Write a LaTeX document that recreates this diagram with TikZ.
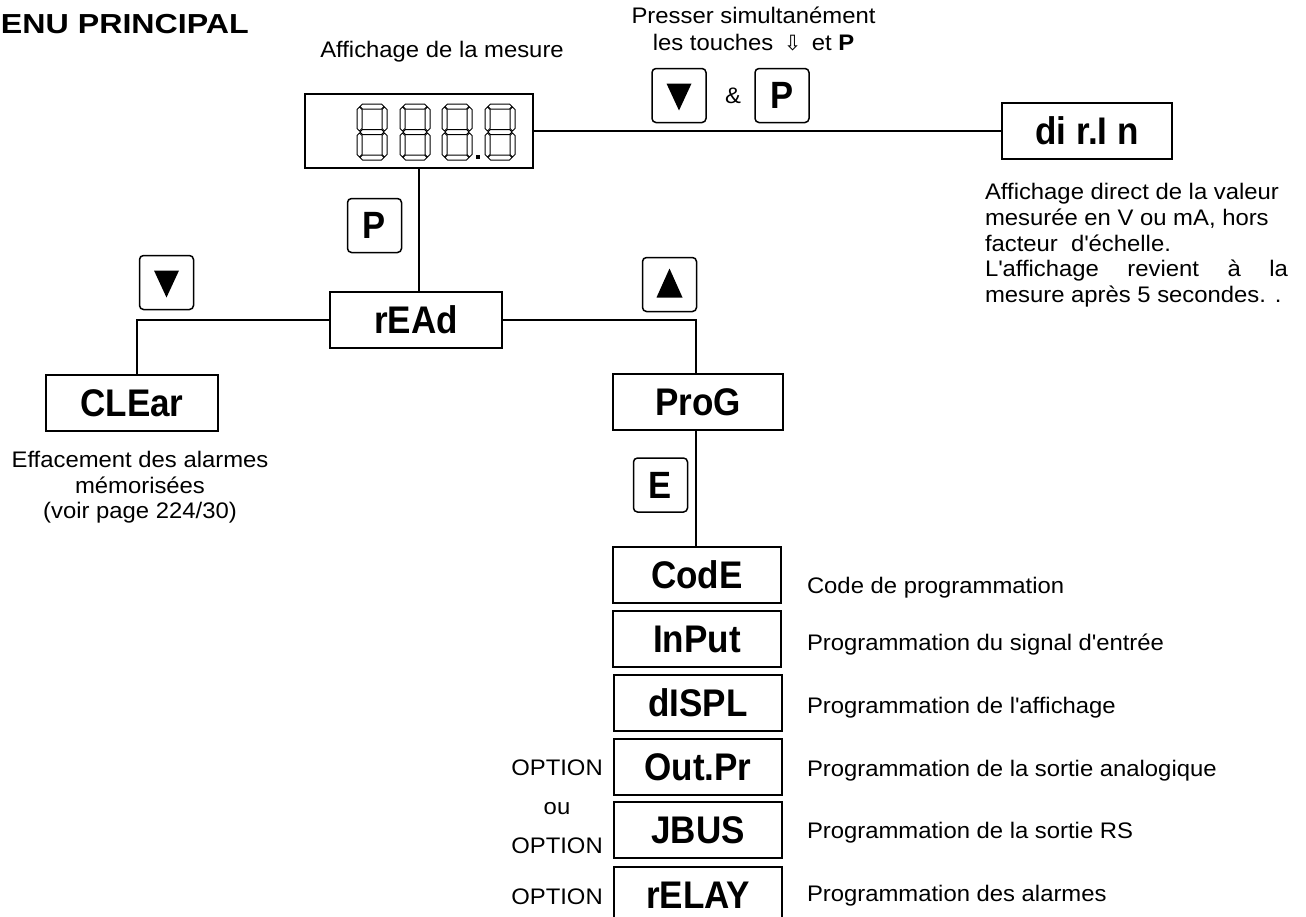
\documentclass[tikz,border=0pt]{standalone}
\usepackage{fontspec}
\setmainfont{Liberation Sans}[FakeStretch=1.06]
\newfontfamily\labfont{Liberation Sans}[FakeStretch=0.91]
\newfontfamily\titlefont{Liberation Sans}[FakeStretch=1.17]
\newfontfamily\arrowfont{DejaVu Sans}
\newcommand{\ap}{\textquotesingle}
\newcommand{\hseg}[3]{\draw[seg] (#1,#3) -- ({#1+2.5},{#3-2.5}) -- ({#2-2.5},{#3-2.5}) -- (#2,#3) -- ({#2-2.5},{#3+2.5}) -- ({#1+2.5},{#3+2.5}) -- cycle;}
\newcommand{\vseg}[3]{\draw[seg] (#1,#2) -- ({#1+2.5},{#2+2.5}) -- ({#1+2.5},{#3-2.5}) -- (#1,#3) -- ({#1-2.5},{#3-2.5}) -- ({#1-2.5},{#2+2.5}) -- cycle;}
\newcommand{\sevenseg}[2]{%
  \hseg{#1+3}{#1+27}{#2+2.5}\hseg{#1+3}{#1+27}{#2+28}\hseg{#1+3}{#1+27}{#2+53.5}%
  \vseg{#1+2.5}{#2+3}{#2+27}\vseg{#1+2.5}{#2+29}{#2+53}%
  \vseg{#1+27.5}{#2+3}{#2+27}\vseg{#1+27.5}{#2+29}{#2+53}}
\newcommand{\downtri}[1]{\fill ([shift={(-12.5,-12)}]#1.center) -- ([shift={(12.5,-12)}]#1.center) -- ([shift={(0,15)}]#1.center) -- cycle;}
\newcommand{\uptri}[1]{\fill ([shift={(-13,13)}]#1.center) -- ([shift={(13,13)}]#1.center) -- ([shift={(0,-16)}]#1.center) -- cycle;}
\begin{document}
\begin{tikzpicture}[x=1pt,y=-1pt,
  every node/.style={inner sep=0pt, outer sep=0pt},
  menubox/.style={draw, line width=2pt, minimum width=168pt, minimum height=56pt,
    font=\labfont\bfseries\fontsize{38.5}{38.5}\selectfont},
  keybox/.style={draw, line width=1.5pt, rounded corners=4pt, minimum width=54pt, minimum height=54pt,
    font=\labfont\bfseries\fontsize{38}{38}\selectfont},
  conn/.style={line width=1.5pt},
  seg/.style={line width=1pt, line join=miter},
  txt/.style={font=\fontsize{22.5}{26}\selectfont}
]
\clip (0,0) rectangle (1306,916);
\fill[white] (0,0) rectangle (1306,916);

% title
\node[anchor=base west, font=\titlefont\bfseries\fontsize{27.5}{27.5}\selectfont] (title) at (1,33) {ENU PRINCIPAL};

% display
\node[txt, anchor=base] (afflabel) at (442,57) {Affichage de la mesure};
\node[draw, line width=2pt, minimum width=228pt, minimum height=74pt] (disp) at (419,131) {};
\foreach \dx in {357,400,442,485} { \sevenseg{\dx}{104} }
\fill (476,155) rectangle (480,159);

% simultaneous keys
\node[txt, anchor=base] (press1) at (753.5,23) {Presser simultanément};
\node[txt, anchor=base] (press2) at (753.5,50) {les touches\ \,{\arrowfont\fontsize{21}{21}\selectfont ⇩}\ \,et \textbf{P}};
\node[keybox] (kdown1) at (679,95.5) {};
\downtri{kdown1}
\node[txt] (amp) at (733,96) {\&};
\node[keybox] (kp1) at (782,95.5) {P};

% dir.In
\node[menubox, minimum width=170pt] (dirin) at (1087,131) {di r.I n};
\node[txt, anchor=base west] (d1) at (985,199) {Affichage direct de la valeur};
\node[txt, anchor=base west] (d2) at (985,225) {mesurée en V ou mA, hors};
\node[txt, anchor=base west] (d3) at (985,251) {facteur\ \ d\ap échelle.};
\node[txt, anchor=base west] (d4) at (985,276) {\makebox[303pt][s]{L\ap affichage revient à la}};
\node[txt, anchor=base west] (d5) at (985,302) {mesure après 5 secondes. .};

% read
\node[keybox] (kp2) at (374.5,225.5) {P};
\node[menubox, minimum width=172pt] (read) at (416,320) {rEAd};
\node[keybox] (kdown2) at (166.5,282.5) {};
\downtri{kdown2}
\node[keybox] (kup) at (669.5,284.5) {};
\uptri{kup}

% clear
\node[menubox, minimum width=172pt] (clear) at (132,403) {CLEar};
\node[txt, anchor=base] (c1) at (140,467) {Effacement des alarmes};
\node[txt, anchor=base] (c2) at (140,493) {mémorisées};
\node[txt, anchor=base] (c3) at (140,518) {(voir page 224/30)};

% prog
\node[menubox, minimum width=170pt] (prog) at (698,402) {ProG};
\node[keybox] (ke) at (660.5,485) {E};

% sub menu
\node[menubox] (code) at (697,575) {CodE};
\node[menubox] (input) at (697,639) {InPut};
\node[menubox] (displ) at (698,703) {dISPL};
\node[menubox] (outpr) at (698,767) {Out.Pr};
\node[menubox] (jbus) at (698,830) {JBUS};
\node[menubox] (relay) at (698,895) {rELAY};

\node[txt, anchor=base west] (t1) at (807,593) {Code de programmation};
\node[txt, anchor=base west] (t2) at (807,650) {Programmation du signal d\ap entrée};
\node[txt, anchor=base west] (t3) at (807,713) {Programmation de l\ap affichage};
\node[txt, anchor=base west] (t4) at (807,776) {Programmation de la sortie analogique};
\node[txt, anchor=base west] (t5) at (807,838) {Programmation de la sortie RS};
\node[txt, anchor=base west] (t6) at (807,901) {Programmation des alarmes};

\node[txt, anchor=base] (o1) at (557,775) {OPTION};
\node[txt, anchor=base] (ou) at (557,814) {ou};
\node[txt, anchor=base] (o2) at (557,853) {OPTION};
\node[txt, anchor=base] (o3) at (557,904) {OPTION};

% connectors
\draw[conn] (disp.east) -- (dirin.west);
\draw[conn] (disp.south) -- (disp.south |- read.north);
\draw[conn] (read.west) -| ([xshift=5pt]clear.north);
\draw[conn] (read.east) -| ([xshift=-2pt]prog.north);
\draw[conn] ([xshift=-2pt]prog.south) -- ([xshift=-2pt]prog.south |- code.north);
\end{tikzpicture}
\end{document}
